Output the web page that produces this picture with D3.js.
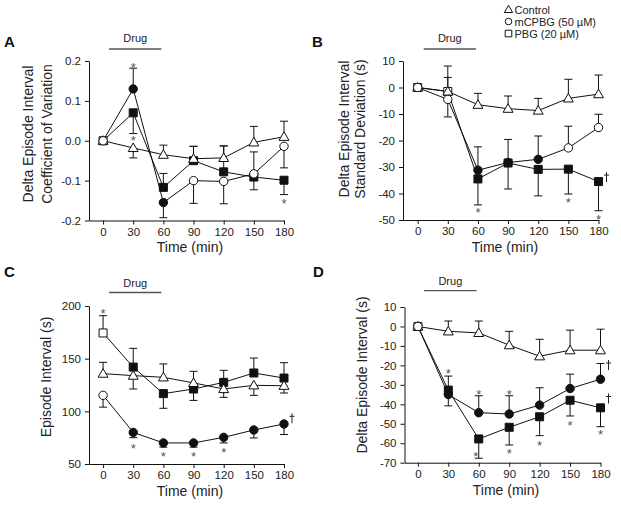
<!DOCTYPE html>
<html><head><meta charset="utf-8">
<script src="https://cdn.jsdelivr.net/npm/d3@7"></script>
<style>
body{margin:0;background:#fff}
svg{display:block;font-family:"Liberation Sans",Arial,Helvetica,sans-serif}
</style>
</head><body>
<svg id="chart" width="621" height="507"></svg>
<script>
// ---------- shared ----------
const times = [0, 30, 60, 90, 120, 150, 180];
const xTickLabels = ["0", "30", "60", "90", "120", "150", "180"];
const drugWindow = [6, 58];
const legendLabels = ["Control", "mCPBG (50 \u00B5M)", "PBG (20 \u00B5M)"];

// ---------- Panel A : Delta episode interval CV ----------
const aYTicks = [-0.2, -0.1, 0.0, 0.1, 0.2];
const aYTickLabels = ["-0.2", "-0.1", "0.0", "0.1", "0.2"];
const aControl = [0, -0.018, -0.035, -0.045, -0.043, -0.004, 0.010];
const aControlErr = [0, -0.025, 0.024, 0.031, 0.030, 0.040, 0.039];
const aMcpbg = [0, 0.130, -0.155, -0.100, -0.102, -0.083, -0.014];
const aMcpbgErr = [0, 0.052, -0.038, -0.057, -0.056, 0.055, -0.054];
const aMcpbgFilled = [0, 1, 1, 0, 0, 0, 0];
const aPbg = [0, 0.070, -0.117, -0.050, -0.078, -0.091, -0.099];
const aPbgErr = [0, -0.052, 0.035, 0.036, 0.065, -0.032, -0.036];
const aPbgFilled = [0, 1, 1, 1, 1, 1, 1];
const aStars = [[30, 0.192], [30, 0.009], [180, -0.149]];
const aDaggers = [];

// ---------- Panel B : Delta episode interval SD ----------
const bYTicks = [-50, -40, -30, -20, -10, 0, 10];
const bYTickLabels = ["-50", "-40", "-30", "-20", "-10", "0", "10"];
const bControl = [0, -1.5, -6.5, -8.0, -8.7, -4.1, -2.5];
const bControlErr = [0, 5.3, 4.3, 4.8, 4.6, 7.2, 7.2];
const bMcpbg = [0, -4.5, -31.2, -28.3, -27.1, -22.8, -15.1];
const bMcpbgErr = [0, -6.6, 8.8, 8.7, 8.8, 8.2, 5.0];
const bMcpbgFilled = [0, 0, 1, 1, 1, 0, 0];
const bPbg = [0, -1.5, -34.5, -28.5, -30.9, -30.8, -35.5];
const bPbgErr = [0, 9.6, -9.8, -9.8, -10.0, -9.4, -11.0];
const bPbgFilled = [0, 0, 1, 1, 1, 1, 1];
const bStars = [[60, -46.2], [150, -42.1], [180, -48.5]];
const bDaggers = [[180, -33.8]];

// ---------- Panel C : Episode interval ----------
const cYTicks = [50, 100, 150, 200];
const cYTickLabels = ["50", "100", "150", "200"];
const cControl = [135.8, 133.9, 132.3, 127.0, 121.2, 124.7, 124.3];
const cControlErr = [10.7, -12.7, 12.7, 11.0, -7.9, -9.5, -6.9];
const cMcpbg = [115.2, 80.0, 70.0, 70.0, 75.3, 82.3, 88.0];
const cMcpbgErr = [-11.2, -5.0, -4.0, -4.0, -5.3, -7.6, -10.0];
const cMcpbgFilled = [0, 1, 1, 1, 1, 1, 1];
const cPbg = [174.4, 142.0, 116.8, 121.2, 127.5, 136.4, 131.6];
const cPbgErr = [16.4, 17.8, -13.9, -10.8, 11.4, 14.2, 14.6];
const cPbgFilled = [0, 1, 1, 1, 1, 1, 1];
const cStars = [[0, 195.5], [30, 67.4], [60, 60.2], [90, 60.2], [120, 64.2]];
const cDaggers = [[180, 93.4]];

// ---------- Panel D : Delta episode interval ----------
const dYTicks = [-70, -60, -50, -40, -30, -20, -10, 0, 10];
const dYTickLabels = ["-70", "-60", "-50", "-40", "-30", "-20", "-10", "0", "10"];
const dControl = [0, -2.5, -3.3, -9.6, -15.3, -12.2, -12.2];
const dControlErr = [0, 5.3, 6.1, 7.1, 8.7, 10.3, 10.8];
const dMcpbg = [0, -35.0, -44.3, -45.0, -40.4, -31.9, -27.1];
const dMcpbgErr = [0, 9.5, 8.7, 9.4, 8.9, 7.4, 8.1];
const dMcpbgFilled = [0, 1, 1, 1, 1, 1, 1];
const dPbg = [0, -32.7, -57.8, -51.8, -46.4, -37.9, -41.8];
const dPbgErr = [0, -8.1, -9.9, -9.1, -9.7, -8.1, -9.7];
const dPbgFilled = [0, 1, 1, 1, 1, 1, 1];
const dStars = [[30, -22.7], [60, -33.5], [57, -65.5], [90, -33.5], [90, -63.5], [120, -59.5], [150, -49.4], [180, -54.1]];
const dDaggers = [[180, -19.8], [180, -37.0]];

// ---------- layout ----------
const FONT = "\"Liberation Sans\",Arial,Helvetica,sans-serif";
const svg = d3.select("#chart");

const panels = [
  { label: "A", lx: 4, ly: 47, xMin: -14, xRange: [89, 284], yDomain: [-0.2, 0.2], yRange: [220.5, 61],
    yTicks: aYTicks, yTickLabels: aYTickLabels,
    yTitle: ["Delta Episode Interval", "Coefficient of Variation"], yTitleX: [33, 52], yTitleY: 134,
    xTitleX: 190, xTitleY: 252, drugY: 49, drugTextY: 42,
    control: [aControl, aControlErr], mcpbg: [aMcpbg, aMcpbgErr, aMcpbgFilled], pbg: [aPbg, aPbgErr, aPbgFilled],
    stars: aStars, daggers: aDaggers },
  { label: "B", lx: 312, ly: 47, xMin: -14.6, xRange: [403, 598.5], yDomain: [-50, 10], yRange: [220, 61],
    yTicks: bYTicks, yTickLabels: bYTickLabels,
    yTitle: ["Delta Episode Interval", "Standard Deviation (s)"], yTitleX: [348.5, 365], yTitleY: 129,
    xTitleX: 505, xTitleY: 252, drugY: 49, drugTextY: 42,
    control: [bControl, bControlErr], mcpbg: [bMcpbg, bMcpbgErr, bMcpbgFilled], pbg: [bPbg, bPbgErr, bPbgFilled],
    stars: bStars, daggers: bDaggers },
  { label: "C", lx: 4, ly: 277, xMin: -14, xRange: [89, 284], yDomain: [50, 200], yRange: [464, 306],
    yTicks: cYTicks, yTickLabels: cYTickLabels,
    yTitle: ["Episode Interval (s)"], yTitleX: [50.5], yTitleY: 377,
    xTitleX: 190, xTitleY: 496, drugY: 292.5, drugTextY: 287,
    control: [cControl, cControlErr], mcpbg: [cMcpbg, cMcpbgErr, cMcpbgFilled], pbg: [cPbg, cPbgErr, cPbgFilled],
    stars: cStars, daggers: cDaggers },
  { label: "D", lx: 313, ly: 277, xMin: -13.2, xRange: [404.5, 600.5], yDomain: [-70, 10], yRange: [462.7, 307],
    yTicks: dYTicks, yTickLabels: dYTickLabels,
    yTitle: ["Delta Episode Interval (s)"], yTitleX: [367], yTitleY: 375,
    xTitleX: 506, xTitleY: 495, drugY: 290.7, drugTextY: 284.5,
    control: [dControl, dControlErr], mcpbg: [dMcpbg, dMcpbgErr, dMcpbgFilled], pbg: [dPbg, dPbgErr, dPbgFilled],
    stars: dStars, daggers: dDaggers }
];

function markerPath(shape, r) {
  if (shape === "triangle") {
    const h = r * 2.0, w = r * 2.3;
    return `M0,${-h * 0.58}L${w / 2},${h * 0.42}L${-w / 2},${h * 0.42}Z`;
  }
  if (shape === "square") return `M${-r},${-r}h${2 * r}v${2 * r}h${-2 * r}Z`;
  return null;
}

function drawMarker(g, shape, cx, cy, filled, r) {
  const fill = filled ? "#111" : "#fff";
  if (shape === "circle") {
    g.append("circle").attr("cx", cx).attr("cy", cy).attr("r", r)
      .attr("fill", fill).attr("stroke", "#111").attr("stroke-width", 1);
  } else {
    g.append("path").attr("d", markerPath(shape, r)).attr("transform", `translate(${cx},${cy})`)
      .attr("fill", fill).attr("stroke", "#111").attr("stroke-width", 1).attr("stroke-linejoin", "miter");
  }
}

panels.forEach(p => {
  const x = d3.scaleLinear().domain([p.xMin, 180]).range(p.xRange);
  const y = d3.scaleLinear().domain(p.yDomain).range(p.yRange);
  const g = svg.append("g");

  // panel letter
  g.append("text").attr("x", p.lx).attr("y", p.ly).text(p.label)
    .attr("font-size", 15).attr("font-weight", "bold").attr("fill", "#111");

  // drug bar
  g.append("line").attr("x1", x(drugWindow[0])).attr("x2", x(drugWindow[1]))
    .attr("y1", p.drugY).attr("y2", p.drugY).attr("stroke", "#555").attr("stroke-width", 1.3);
  g.append("text").attr("x", (x(drugWindow[0]) + x(drugWindow[1])) / 2).attr("y", p.drugTextY)
    .attr("text-anchor", "middle").attr("font-size", 11).attr("fill", "#222").text("Drug");

  // axes
  const yAxis = d3.axisLeft(y).tickValues(p.yTicks).tickSize(4).tickSizeOuter(0).tickPadding(4)
    .tickFormat((d, i) => p.yTickLabels[i]);
  const xAxis = d3.axisBottom(x).tickValues(times).tickSize(4).tickSizeOuter(0).tickPadding(3)
    .tickFormat((d, i) => xTickLabels[i]);
  const ya = g.append("g").attr("transform", `translate(${p.xRange[0]},0)`).call(yAxis);
  const xa = g.append("g").attr("transform", `translate(0,${p.yRange[0]})`).call(xAxis);
  [ya, xa].forEach(a => {
    a.attr("font-family", FONT).attr("font-size", 11.5);
    a.selectAll("path,line").attr("stroke", "#111").attr("stroke-width", 1);
    a.selectAll("text").attr("fill", "#222");
  });

  // axis titles
  p.yTitle.forEach((t, i) => {
    g.append("text").attr("transform", `translate(${p.yTitleX[i]},${p.yTitleY}) rotate(-90)`)
      .attr("text-anchor", "middle").attr("font-size", 14).attr("fill", "#222").text(t);
  });
  g.append("text").attr("x", p.xTitleX).attr("y", p.xTitleY).attr("text-anchor", "middle")
    .attr("font-size", 14).attr("fill", "#222").text("Time (min)");

  const series = [
    { shape: "square", vals: p.pbg[0], err: p.pbg[1], filled: p.pbg[2], r: 4 },
    { shape: "triangle", vals: p.control[0], err: p.control[1], filled: times.map(() => 0), r: 4.3 },
    { shape: "circle", vals: p.mcpbg[0], err: p.mcpbg[1], filled: p.mcpbg[2], r: 4.2 }
  ];
  const line = d3.line().x((d, i) => x(times[i])).y(d => y(d));

  // lines and error bars first
  series.forEach(s => {
    g.append("path").attr("d", line(s.vals)).attr("fill", "none").attr("stroke", "#111").attr("stroke-width", 1);
    s.vals.forEach((v, i) => {
      const e = s.err[i];
      if (!e) return;
      const cx = x(times[i]), y0 = y(v), y1 = y(v + e);
      g.append("line").attr("x1", cx).attr("x2", cx).attr("y1", y0).attr("y2", y1)
        .attr("stroke", "#111").attr("stroke-width", 1);
      g.append("line").attr("x1", cx - 4).attr("x2", cx + 4).attr("y1", y1).attr("y2", y1)
        .attr("stroke", "#111").attr("stroke-width", 1);
    });
  });
  // markers
  series.forEach(s => {
    s.vals.forEach((v, i) => drawMarker(g, s.shape, x(times[i]), y(v), s.filled[i], s.r));
  });

  // significance marks
  p.stars.forEach(([t, v]) => {
    g.append("text").attr("x", x(t)).attr("y", y(v) + 7.5).attr("text-anchor", "middle")
      .attr("font-size", 13).attr("fill", "#555").text("*");
  });
  // daggers drawn as strokes (avoid coloured sub-pixel glyph rendering)
  p.daggers.forEach(([t, v]) => {
    const dx = x(t) + 8, dy = y(v);
    g.append("path")
      .attr("d", `M${dx},${dy - 5}V${dy + 5}M${dx - 2.5},${dy - 2}H${dx + 2.5}`)
      .attr("stroke", "#222").attr("stroke-width", 1).attr("fill", "none");
  });
});

// legend
const lg = svg.append("g");
const legendShapes = ["triangle", "circle", "square"];
legendShapes.forEach((s, i) => {
  const cy = 9.5 + i * 12;
  drawMarker(lg, s, 508.5, cy, 0, s === "triangle" ? 3.6 : 3.3);
  lg.append("text").attr("x", 514.5).attr("y", cy + 4).attr("font-size", 11).attr("fill", "#222")
    .text(legendLabels[i]);
});
</script>
</body></html>
